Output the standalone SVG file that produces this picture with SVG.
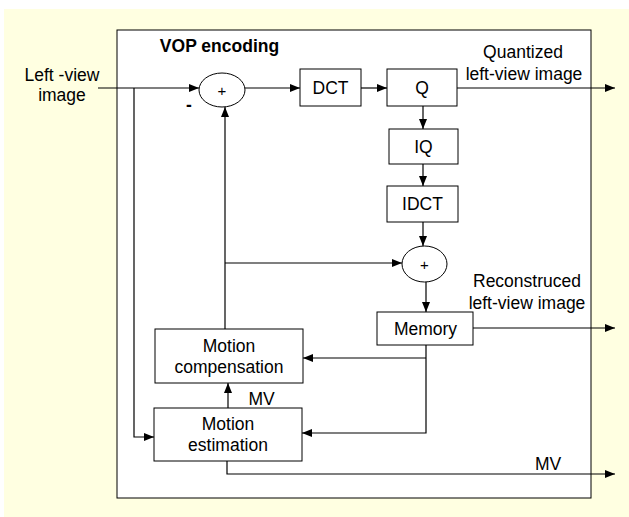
<svg xmlns="http://www.w3.org/2000/svg" width="629" height="517" viewBox="0 0 629 517">
<defs>
<marker id="ah" viewBox="0 0 10 8" refX="10" refY="4" markerWidth="10" markerHeight="8" markerUnits="userSpaceOnUse" orient="auto">
<path d="M0,0 L10,4 L0,8 Z" fill="#000"/>
</marker>
</defs>
<style>
.t{font-family:"Liberation Sans",Arial,sans-serif;font-size:17.5px;fill:#000;text-anchor:middle}
.b{font-weight:bold}
.s{font-size:15px}
.box{fill:#fff;stroke:#000;stroke-width:1}
.c{fill:none;stroke:#000;stroke-width:1.2}
.a{marker-end:url(#ah)}
</style>
<rect x="4" y="9" width="625" height="508" fill="#FFFFE1"/>
<rect id="frame" x="117" y="30" width="474" height="468" fill="#fff" stroke="#000" stroke-width="1"/>
<text class="t b" x="219.5" y="52">VOP encoding</text>
<text class="t" x="62" y="81">Left -view</text>
<text class="t" x="62" y="101">image</text>
<text class="t" x="523" y="58">Quantized</text>
<text class="t" x="524" y="80">left-view image</text>
<text class="t" x="527" y="287">Reconstruced</text>
<text class="t" x="527" y="309">left-view image</text>
<text class="t" x="261.5" y="405">MV</text>
<text class="t" x="548" y="470">MV</text>
<text class="t b" x="189" y="111">-</text>

<g id="connectors">
<path class="c a" d="M98,88 H199"/>
<path class="c a" d="M134,88 V437 H154"/>
<path class="c a" d="M245,88 H300"/>
<path class="c a" d="M361,88 H387"/>
<path class="c a" d="M457,88 H615"/>
<path class="c a" d="M423,105 V129"/>
<path class="c a" d="M423,164 V186"/>
<path class="c a" d="M423,222 V246"/>
<path class="c a" d="M225,263 H402"/>
<path class="c a" d="M225,329 V107"/>
<path class="c a" d="M426,282 V312"/>
<path class="c a" d="M473,328 H615"/>
<path class="c a" d="M426,345 V433 H302"/>
<path class="c a" d="M426,358 H303"/>
<path class="c a" d="M228,408 V383"/>
<path class="c a" d="M227,461 V474 H615"/>
</g>

<g id="sum1">
<ellipse cx="222" cy="90" rx="23" ry="17" class="box"/>
<text class="t s" x="222" y="95.5">+</text>
</g>
<g id="dct">
<rect x="300" y="69" width="61" height="37" class="box"/>
<text class="t" x="330.5" y="94">DCT</text>
</g>
<g id="q">
<rect x="387" y="69" width="70" height="37" class="box"/>
<text class="t" x="422" y="94">Q</text>
</g>
<g id="iq">
<rect x="389" y="129" width="69" height="35" class="box"/>
<text class="t" x="423.5" y="153">IQ</text>
</g>
<g id="idct">
<rect x="387" y="186" width="71" height="36" class="box"/>
<text class="t" x="422.5" y="210">IDCT</text>
</g>
<g id="sum2">
<ellipse cx="424.5" cy="264" rx="22.5" ry="18" class="box"/>
<text class="t s" x="424.5" y="269.5">+</text>
</g>
<g id="memory">
<rect x="377" y="312" width="96" height="33" class="box"/>
<text class="t" x="425.5" y="335">Memory</text>
</g>
<g id="motion-compensation">
<rect x="155" y="329" width="148" height="54" class="box"/>
<text class="t" x="229" y="351.5">Motion</text>
<text class="t" x="229" y="373">compensation</text>
</g>
<g id="motion-estimation">
<rect x="154" y="408" width="148" height="53" class="box"/>
<text class="t" x="228" y="430">Motion</text>
<text class="t" x="228" y="451">estimation</text>
</g>
</svg>
